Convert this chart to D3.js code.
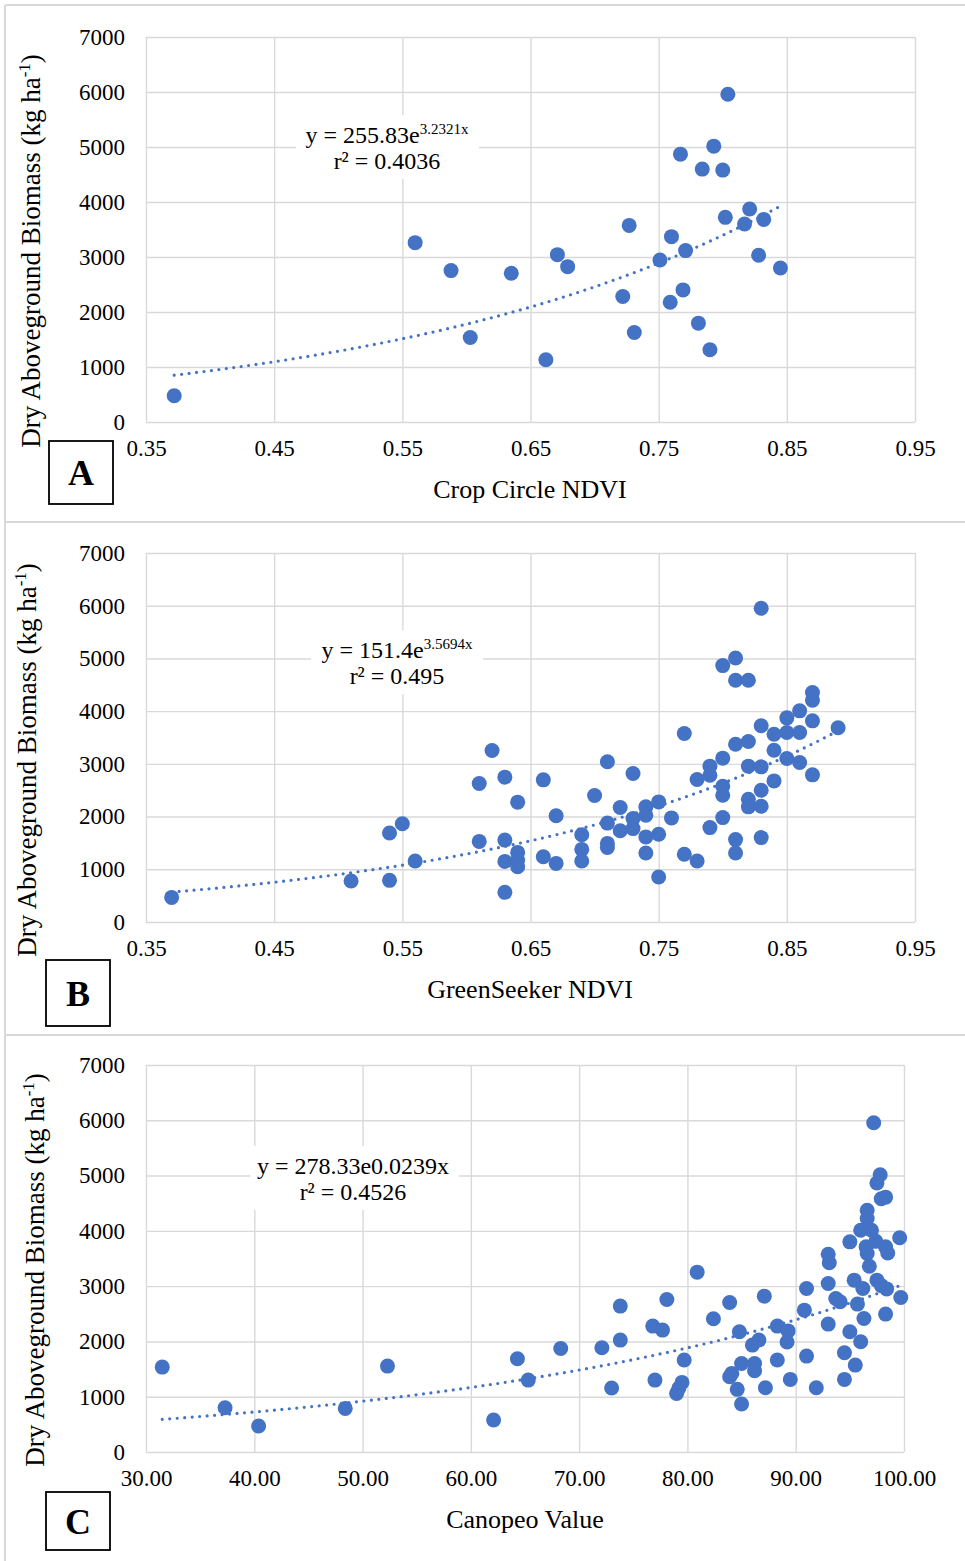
<!DOCTYPE html>
<html>
<head>
<meta charset="utf-8">
<script src="https://cdn.jsdelivr.net/npm/d3@7"></script>
<style>
	body { margin: 0; background: #fff; }
	svg { display: block; font-family: "Liberation Serif", "Times New Roman", serif; }
</style>
</head>
<body>
<svg id="chart" width="965" height="1561"></svg>
<script>
// ---- data ----
var biomassTicks = [0, 1000, 2000, 3000, 4000, 5000, 6000, 7000];
var ndviTicks = [0.35, 0.45, 0.55, 0.65, 0.75, 0.85, 0.95];
var canopeoTicks = [30, 40, 50, 60, 70, 80, 90, 100];

// A: Crop Circle NDVI
var cropCircleNDVI = [0.372, 0.560, 0.588, 0.603, 0.635, 0.662, 0.671, 0.679, 0.722, 0.727,
	0.731, 0.751, 0.759, 0.760, 0.767, 0.769, 0.771, 0.781, 0.784, 0.790,
	0.793, 0.800, 0.802, 0.804, 0.817, 0.821, 0.828, 0.832, 0.845];
var cropCircleBiomass = [478, 3261, 2753, 1537, 2704, 1131, 3043, 2825, 2281, 3575,
	1627, 2946, 2178, 3370, 4870, 2402, 3116, 1797, 4598, 1313,
	5015, 4580, 3721, 5959, 3600, 3872, 3031, 3684, 2801];
var cropCircleFit = [255.83, 3.2321];
var cropCircleEq = ["y = 255.83e", "3.2321x", "r² = 0.4036"];

// B: GreenSeeker NDVI
var greenSeekerNDVI = [0.37, 0.51, 0.54, 0.54, 0.55, 0.56, 0.61, 0.61, 0.62, 0.63,
	0.63, 0.63, 0.63, 0.64, 0.64, 0.64, 0.64, 0.66, 0.66, 0.67,
	0.67, 0.69, 0.69, 0.69, 0.70, 0.71, 0.71, 0.71, 0.71, 0.72,
	0.72, 0.73, 0.73, 0.73, 0.74, 0.74, 0.74, 0.74, 0.75, 0.75,
	0.75, 0.76, 0.77, 0.77, 0.78, 0.78, 0.79, 0.79, 0.79, 0.80,
	0.80, 0.80, 0.80, 0.80, 0.81, 0.81, 0.81, 0.81, 0.81, 0.82,
	0.82, 0.82, 0.82, 0.82, 0.83, 0.83, 0.83, 0.83, 0.83, 0.83,
	0.84, 0.84, 0.84, 0.85, 0.85, 0.85, 0.86, 0.86, 0.86, 0.87,
	0.87, 0.87, 0.87, 0.89];
var greenSeekerBiomass = [467, 777, 790, 1687, 1864, 1156, 1529, 2628, 3253, 2748,
	1554, 1150, 562, 2274, 1320, 1175, 1049, 2697, 1238, 2015,
	1112, 1655, 1377, 1156, 2400, 3039, 1876, 1491, 1415, 2173,
	1731, 2817, 1962, 1772, 2184, 2025, 1614, 1310, 2278, 1665,
	854, 1975, 3576, 1285, 2703, 1158, 2956, 2785, 1791, 4864,
	3108, 2576, 2405, 1981, 5009, 4586, 3373, 1563, 1310, 4586,
	3424, 2956, 2329, 2184, 5951, 3722, 2943, 2500, 2196, 1601,
	3563, 3259, 2677, 3873, 3595, 3101, 4006, 3595, 3025, 4354,
	4209, 3816, 2791, 3684];
var greenSeekerFit = [151.4, 3.5694];
var greenSeekerEq = ["y = 151.4e", "3.5694x", "r² = 0.495"];

// C: Canopeo
var canopeoValue = [31.5, 37.3, 40.4, 48.4, 52.3, 62.1, 64.3, 65.3, 68.3, 72.1,
	73.0, 73.8, 73.8, 76.8, 77.0, 77.7, 78.1, 79.0, 79.2, 79.5,
	79.7, 80.9, 82.4, 83.9, 84.1, 83.9, 84.6, 84.8, 85.0, 85.0,
	86.0, 86.6, 86.2, 86.2, 87.1, 87.2, 88.3, 88.3, 89.3, 89.2,
	89.5, 90.8, 91.0, 91.0, 91.9, 93.0, 93.1, 93.0, 93.0, 93.7,
	94.1, 94.5, 94.5, 95.0, 95.0, 95.4, 95.5, 95.7, 96.0, 96.0,
	96.2, 96.3, 96.6, 96.6, 96.5, 96.6, 96.8, 97.0, 97.2, 97.4,
	97.5, 97.8, 97.5, 97.9, 98.4, 97.9, 98.3, 98.3, 98.5, 98.3,
	99.6, 99.7];
var canopeoBiomass = [1536, 801, 470, 789, 1554, 578, 1687, 1301, 1873, 1886,
	1157, 2639, 2024, 2277, 1301, 2205, 2759, 1060, 1151, 1259,
	1663, 3253, 2410, 1361, 1422, 2705, 1133, 2175, 1602, 867,
	1934, 2024, 1602, 1470, 2819, 1163, 2277, 1663, 2190, 1990,
	1313, 2566, 2958, 1735, 1163, 3578, 3422, 3048, 2313, 2777,
	2717, 1795, 1313, 3801, 2175, 3108, 1572, 2675, 1994, 4012,
	2958, 2416, 4373, 4223, 3711, 3590, 3361, 4012, 5955, 3810,
	4865, 5015, 3108, 3010, 2950, 4580, 4610, 3711, 3600, 2494,
	3875, 2795];
var canopeoFit = [278.33, 0.0239];
var canopeoEq = ["y = 278.33e0.0239x", "", "r² = 0.4526"];

var Chart = {
	gridColor: "#d9d9d9",
	dotColor: "#4472c4",
	svg: null,

	init: function() {
		var self = this;
		self.svg = d3.select("#chart");

		// outer frame and panel separators
		var frame = [[5, 5, 965, 5], [5, 5, 5, 1561], [5, 522, 965, 522], [5, 1035, 965, 1035]];
		self.svg.selectAll(".frame")
			.data(frame)
			.enter()
			.append("line")
			.attr("class", "frame")
			.attr("x1", function(d) { return d[0]; })
			.attr("y1", function(d) { return d[1]; })
			.attr("x2", function(d) { return d[2]; })
			.attr("y2", function(d) { return d[3]; })
			.style("stroke", self.gridColor)
			.style("stroke-width", 2);
	},

	drawPanel: function(p) {
		var self = this;
		var g = self.svg.append("g");

		var x = d3.scaleLinear().domain(p.xDomain).range([p.left, p.right]);
		var y = d3.scaleLinear().domain([0, 7000]).range([p.bottom, p.top]);

		// axes with gridlines
		var xAxis = g.append("g")
			.attr("transform", "translate(0," + p.bottom + ")")
			.call(d3.axisBottom(x)
				.tickValues(p.xTicks)
				.tickFormat(d3.format(".2f"))
				.tickSize(-(p.bottom - p.top))
				.tickSizeOuter(0)
				.tickPadding(18));
		var yAxis = g.append("g")
			.attr("transform", "translate(" + p.left + ",0)")
			.call(d3.axisLeft(y)
				.tickValues(biomassTicks)
				.tickFormat(d3.format("d"))
				.tickSize(-(p.right - p.left))
				.tickSizeOuter(0)
				.tickPadding(21));

		[xAxis, yAxis].forEach(function(axis) {
			axis.select(".domain").remove();
			axis.selectAll(".tick line")
				.style("stroke", self.gridColor)
				.style("stroke-width", 1.4);
			axis.selectAll(".tick text")
				.style("font-family", "Liberation Serif")
				.style("font-size", "23px")
				.style("fill", "#000");
		});

		// trendline from the fitted equation
		var xMin = d3.min(p.xs), xMax = d3.max(p.xs);
		var trend = d3.range(0, 61).map(function(i) {
			var xv = xMin + (xMax - xMin) * i / 60;
			return [xv, p.fit[0] * Math.exp(p.fit[1] * xv)];
		});
		g.append("path")
			.datum(trend)
			.attr("d", d3.line()
				.x(function(d) { return x(d[0]); })
				.y(function(d) { return y(d[1]); }))
			.style("fill", "none")
			.style("stroke", self.dotColor)
			.style("stroke-width", 3.2)
			.style("stroke-linecap", "round")
			.style("stroke-dasharray", "0 7.5");

		// points
		g.selectAll(".dot")
			.data(p.xs)
			.enter()
			.append("circle")
			.attr("class", "dot")
			.attr("cx", function(d) { return x(d); })
			.attr("cy", function(d, i) { return y(p.ys[i]); })
			.attr("r", 7.5)
			.style("fill", self.dotColor);

		// equation label
		g.append("rect")
			.attr("x", p.eqBox[0])
			.attr("y", p.eqBox[1])
			.attr("width", p.eqBox[2])
			.attr("height", p.eqBox[3])
			.style("fill", "#fff");

		var eq1 = g.append("text")
			.attr("x", p.eqX)
			.attr("y", p.eqY[0])
			.style("text-anchor", "middle")
			.style("font-size", "24px");
		eq1.append("tspan").text(p.eq[0]);
		if (p.eq[1])
			eq1.append("tspan")
				.attr("dy", -9)
				.style("font-size", "15px")
				.text(p.eq[1]);

		g.append("text")
			.attr("x", p.eqX)
			.attr("y", p.eqY[1])
			.style("text-anchor", "middle")
			.style("font-size", "24px")
			.text(p.eq[2]);

		// axis titles
		g.append("text")
			.attr("x", p.xTitlePos[0])
			.attr("y", p.xTitlePos[1])
			.style("text-anchor", "middle")
			.style("font-size", "26px")
			.text(p.xTitle);

		var yTitle = g.append("text")
			.attr("transform", "translate(" + p.yTitlePos[0] + "," + p.yTitlePos[1] + ") rotate(-90)")
			.attr("dy", "0.35em")
			.style("text-anchor", "middle")
			.style("font-size", "27px");
		yTitle.append("tspan").text("Dry Aboveground Biomass (kg ha");
		yTitle.append("tspan")
			.attr("dy", -10)
			.style("font-size", "17px")
			.text("-1");
		yTitle.append("tspan")
			.attr("dy", 10)
			.text(")");

		// panel letter
		g.append("rect")
			.attr("x", p.labelBox[0])
			.attr("y", p.labelBox[1])
			.attr("width", p.labelBox[2])
			.attr("height", p.labelBox[3])
			.style("fill", "#fff")
			.style("stroke", "#000")
			.style("stroke-width", 1.8);
		g.append("text")
			.attr("x", p.labelBox[0] + p.labelBox[2] / 2)
			.attr("y", p.labelBox[1] + p.labelBox[3] / 2)
			.attr("dy", "0.35em")
			.style("text-anchor", "middle")
			.style("font-size", "36px")
			.style("font-weight", "bold")
			.text(p.letter);
	}
};

Chart.init();

Chart.drawPanel({
	xs: cropCircleNDVI, ys: cropCircleBiomass, fit: cropCircleFit, eq: cropCircleEq,
	xDomain: [0.35, 0.95], xTicks: ndviTicks,
	left: 146, right: 915, top: 37, bottom: 422,
	xTitle: "Crop Circle NDVI", xTitlePos: [530, 498], yTitlePos: [31, 251],
	eqBox: [296, 115, 183, 64], eqX: 387, eqY: [143, 169],
	labelBox: [49, 441, 64, 63], letter: "A"
});

Chart.drawPanel({
	xs: greenSeekerNDVI, ys: greenSeekerBiomass, fit: greenSeekerFit, eq: greenSeekerEq,
	xDomain: [0.35, 0.95], xTicks: ndviTicks,
	left: 146, right: 915, top: 553, bottom: 922,
	xTitle: "GreenSeeker NDVI", xTitlePos: [530, 998], yTitlePos: [27, 760],
	eqBox: [311, 630, 172, 64], eqX: 397, eqY: [658, 684],
	labelBox: [46, 960, 64, 66], letter: "B"
});

Chart.drawPanel({
	xs: canopeoValue, ys: canopeoBiomass, fit: canopeoFit, eq: canopeoEq,
	xDomain: [30, 100], xTicks: canopeoTicks,
	left: 146, right: 904, top: 1065, bottom: 1452,
	xTitle: "Canopeo Value", xTitlePos: [525, 1528], yTitlePos: [35, 1270],
	eqBox: [250, 1146, 209, 64], eqX: 353, eqY: [1174, 1200],
	labelBox: [46, 1492, 64, 58], letter: "C"
});
</script>
</body>
</html>
